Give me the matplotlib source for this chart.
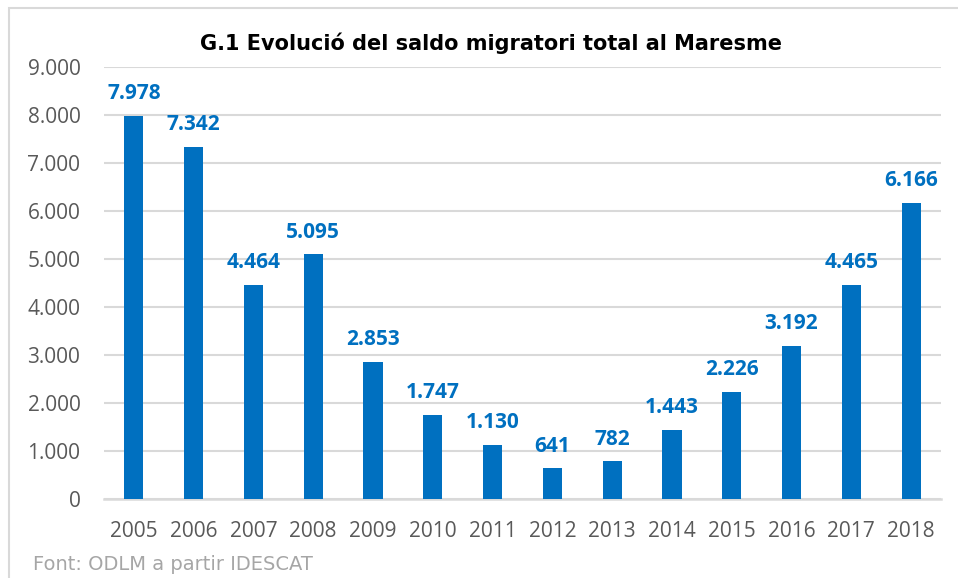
import matplotlib.pyplot as plt
from matplotlib.patches import Rectangle
from matplotlib.ticker import FuncFormatter

# Saldo migratori total al Maresme
years = ["2005", "2006", "2007", "2008", "2009", "2010", "2011",
         "2012", "2013", "2014", "2015", "2016", "2017", "2018"]
saldo = [7978, 7342, 4464, 5095, 2853, 1747, 1130,
         641, 782, 1443, 2226, 3192, 4465, 6166]

blue = "#0070C0"
grid = "#D9D9D9"
txt = "#595959"


def fmt(v):
    return f"{int(v):,}".replace(",", ".")


fig = plt.figure(figsize=(9.58, 5.78), dpi=100)
ax = fig.add_axes([104 / 958, 1 - 499 / 578, 837 / 958, (499 - 67) / 578])

x = range(len(years))
ax.bar(x, saldo, width=0.32, color=blue, zorder=3)

for i, v in enumerate(saldo):
    ax.annotate(fmt(v), (i, v), xytext=(0, 12), textcoords="offset points",
                ha="center", va="baseline", color=blue, fontsize=15,
                fontweight="bold", family="Open Sans")

ax.set_xlim(-0.5, len(years) - 0.5)
ax.set_ylim(0, 9000)
ax.set_yticks(range(0, 9001, 1000))
ax.yaxis.set_major_formatter(FuncFormatter(lambda v, p: fmt(v)))
ax.set_xticks(list(x))
ax.set_xticklabels(years)

ax.grid(axis="y", color=grid, linewidth=1.5, zorder=0)
for s in ["top", "right", "left"]:
    ax.spines[s].set_visible(False)
ax.spines["bottom"].set_color(grid)
ax.spines["bottom"].set_linewidth(1.8)
ax.tick_params(length=0, labelsize=15, labelcolor=txt)
ax.tick_params(axis="x", pad=16)
ax.tick_params(axis="y", pad=17)
for lab in ax.get_xticklabels() + ax.get_yticklabels():
    lab.set_family("Open Sans")

fig.text(491 / 958, 1 - 43 / 578, "G.1 Evolució del saldo migratori total al Maresme",
         ha="center", va="center", fontsize=15, fontweight="bold",
         family="DejaVu Sans", color="black")
fig.text(33 / 958, 1 - 565 / 578, "Font: ODLM a partir IDESCAT",
         ha="left", va="center", fontsize=14, family="DejaVu Sans", color="#A6A6A6")

fig.patches.append(Rectangle((9 / 958, -0.05), 1.0, 1 - 8 / 578 + 0.05,
                             transform=fig.transFigure, fill=False,
                             edgecolor=grid, linewidth=1.5))

fig.savefig("out.png", dpi=100)
